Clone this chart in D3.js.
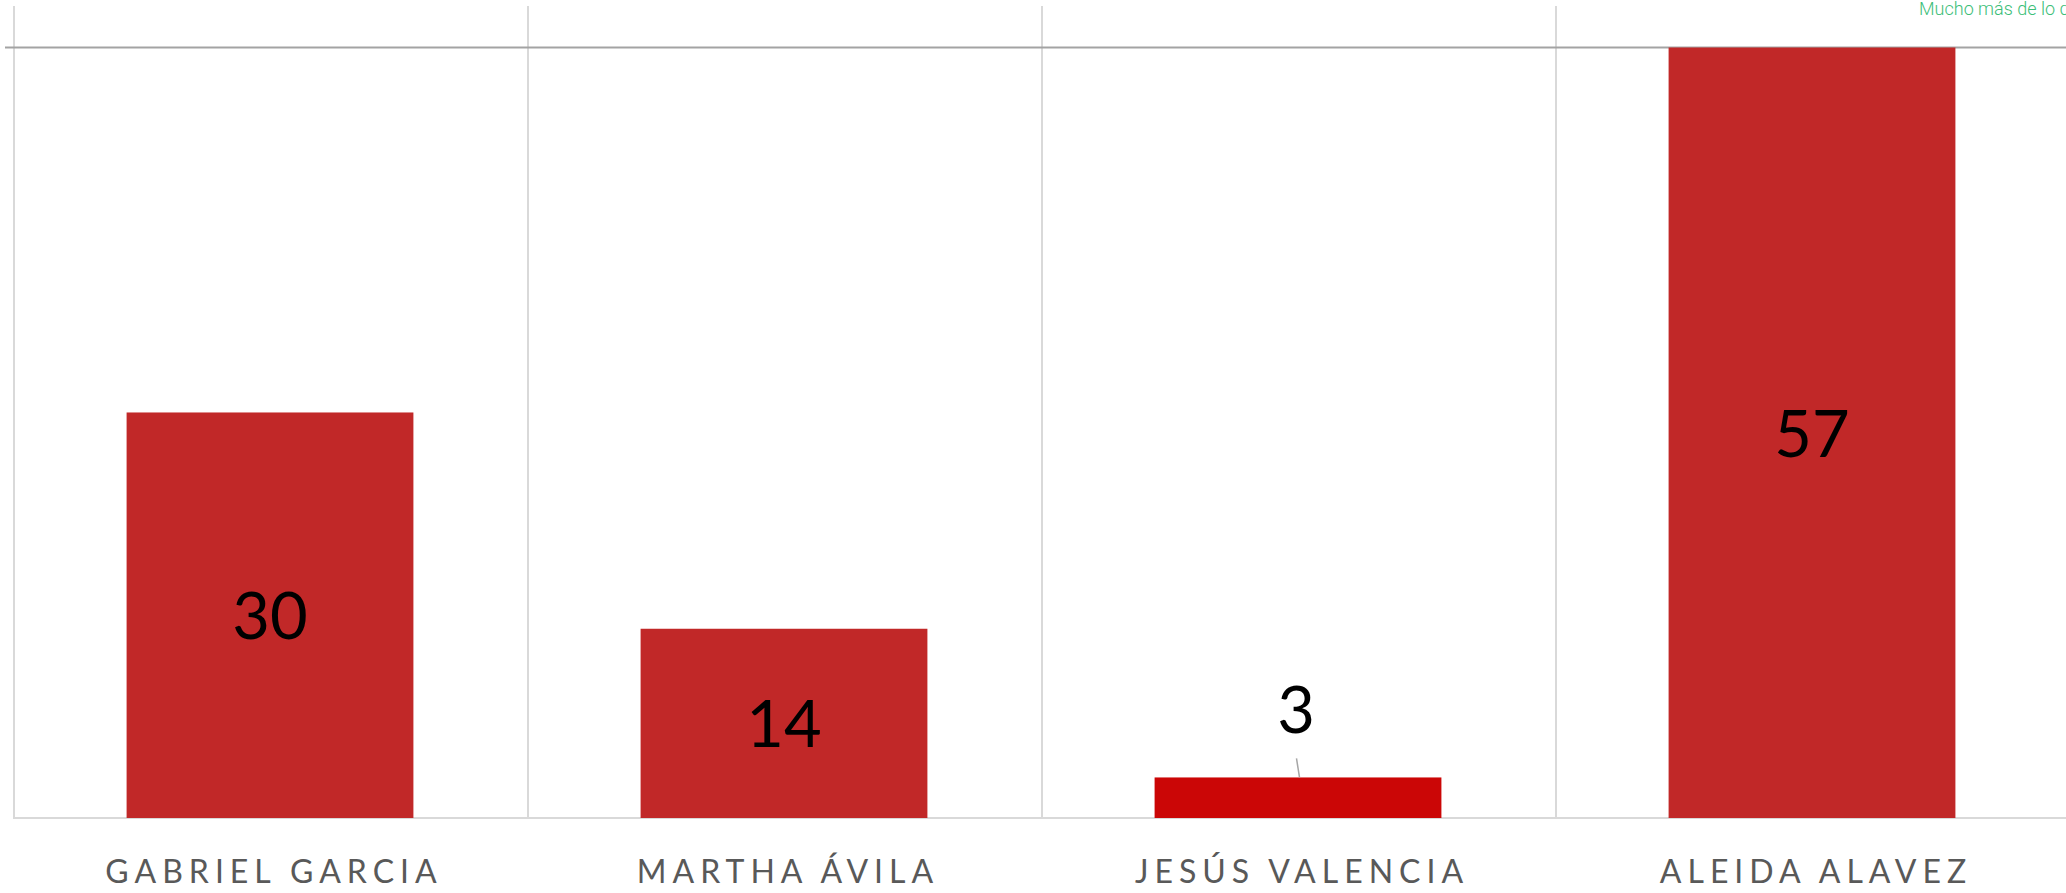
<!DOCTYPE html>
<html>
<head>
<meta charset="utf-8">
<script src="https://cdn.jsdelivr.net/npm/d3@7"></script>
<style>
  html, body { margin: 0; padding: 0; background: #fff; }
  svg { display: block; }
</style>
</head>
<body>
<div id="chart"></div>
<script>
// data
const categories = ['GABRIEL GARCIA', 'MARTHA ÁVILA', 'JESÚS VALENCIA', 'ALEIDA ALAVEZ'];
const values = [30, 14, 3, 57];
const barColors = ['#c12828', '#c12828', '#cb0606', '#c12828'];
const yMax = 57;
const cornerNote = 'Mucho más de lo que';

const width = 2066;
const height = 893;
const margin = { top: 47.5, right: -3, bottom: 75, left: 13 };

const svg = d3.select('#chart')
  .append('svg')
  .attr('width', width)
  .attr('height', height);

const scaleX = d3.scaleBand()
  .domain(categories)
  .range([margin.left, width - margin.right])
  .paddingInner(0)
  .paddingOuter(0);

const scaleY = d3.scaleLinear()
  .domain([0, yMax])
  .range([height - margin.bottom, margin.top]);

const baseY = scaleY(0);
const barW = scaleX.bandwidth() * 0.558;

// vertical grid at category boundaries
const bounds = categories.map(c => scaleX(c)).concat([scaleX.range()[1]]);
svg.append('g')
  .selectAll('line')
  .data(bounds)
  .join('line')
  .attr('x1', d => d + 1)
  .attr('x2', d => d + 1)
  .attr('y1', 6)
  .attr('y2', baseY)
  .attr('stroke', '#d9d9d9')
  .attr('stroke-width', 2);

// top line
svg.append('line')
  .attr('x1', 5)
  .attr('x2', width)
  .attr('y1', scaleY(yMax))
  .attr('y2', scaleY(yMax))
  .attr('stroke', '#a3a3a3')
  .attr('stroke-width', 2);

// baseline
svg.append('line')
  .attr('x1', margin.left)
  .attr('x2', width)
  .attr('y1', baseY)
  .attr('y2', baseY)
  .attr('stroke', '#d9d9d9')
  .attr('stroke-width', 2);

// bars
svg.append('g')
  .selectAll('rect')
  .data(values)
  .join('rect')
  .attr('x', (d, i) => scaleX(categories[i]) + (scaleX.bandwidth() - barW) / 2)
  .attr('y', d => scaleY(d))
  .attr('width', barW)
  .attr('height', d => baseY - scaleY(d))
  .attr('fill', (d, i) => barColors[i]);

// value labels
const labelSize = 65;
const labels = svg.append('g')
  .attr('font-family', 'Lato, "Open Sans", sans-serif')
  .attr('font-size', labelSize)
  .attr('fill', '#000');

values.forEach((v, i) => {
  const cx = scaleX(categories[i]) + scaleX.bandwidth() / 2;
  const top = scaleY(v);
  const inside = baseY - top > labelSize;
  if (inside) {
    labels.append('text')
      .attr('x', cx)
      .attr('y', (top + baseY) / 2 + 24)
      .attr('text-anchor', 'middle')
      .text(v);
  } else {
    labels.append('text')
      .attr('x', cx - 2)
      .attr('y', top - 44)
      .attr('text-anchor', 'middle')
      .text(v);
    svg.append('line')
      .attr('x1', cx - 1.5)
      .attr('y1', top - 19)
      .attr('x2', cx + 1.5)
      .attr('y2', top)
      .attr('stroke', '#a6a6a6')
      .attr('stroke-width', 1.5);
  }
});

// category labels
svg.append('g')
  .selectAll('text')
  .data(categories)
  .join('text')
  .attr('x', d => scaleX(d) + scaleX.bandwidth() / 2 + 4)
  .attr('y', 883)
  .attr('text-anchor', 'middle')
  .attr('font-family', 'Lato, "Open Sans", sans-serif')
  .attr('font-size', 32)
  .attr('letter-spacing', 6)
  .attr('fill', '#595959')
  .text(d => d);

// corner note (cut by the page edge, as in the source)
svg.append('text')
  .attr('x', 1919)
  .attr('y', 15)
  .attr('font-family', 'Roboto, sans-serif')
  .attr('font-weight', 300)
  .attr('font-size', 18)
  .attr('fill', '#3cbe78')
  .text(cornerNote);
</script>
</body>
</html>
